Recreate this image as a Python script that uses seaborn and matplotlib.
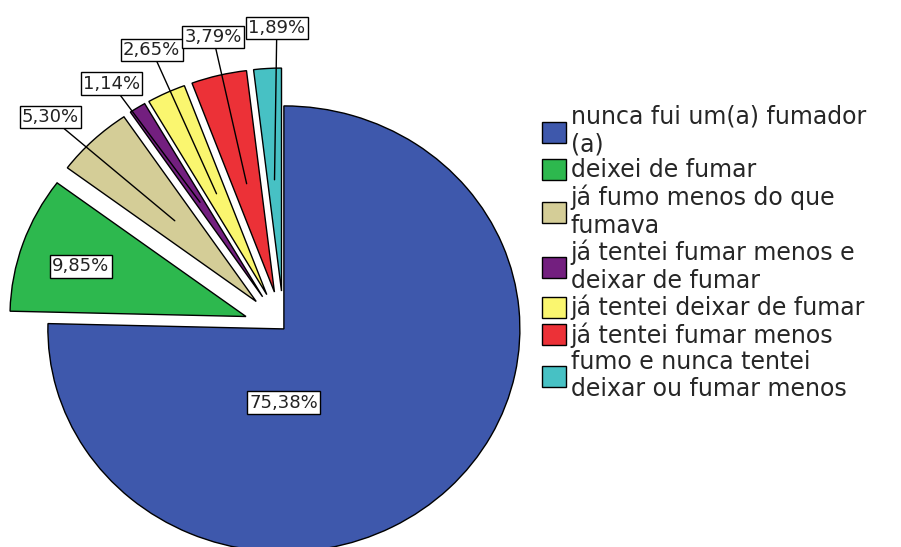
import matplotlib
matplotlib.use("Agg")
import numpy as np
import matplotlib.pyplot as plt
import seaborn as sns

categories = ["nunca fui um(a) fumador\n(a)",
              "deixei de fumar",
              "já fumo menos do que\nfumava",
              "já tentei fumar menos e\ndeixar de fumar",
              "já tentei deixar de fumar",
              "já tentei fumar menos",
              "fumo e nunca tentei\ndeixar ou fumar menos"]
percent = [75.38, 9.85, 5.30, 1.14, 2.65, 3.79, 1.89]
colors_hex = ["#3e58ac", "#2db84e", "#d4cd97", "#731f7f",
              "#faf66f", "#ec3137", "#47c1c4"]
explode = [0, 0.17, 0.17, 0.17, 0.17, 0.17, 0.17]
# label box positions (data units, pie radius = 1)
label_pos = [(0.0, -0.33), (-0.86, 0.28), (-0.99, 0.95), (-0.73, 1.10),
             (-0.56, 1.25), (-0.30, 1.31), (-0.03, 1.35)]
leader = [False, False, True, True, True, True, True]

sns.set_theme(style="white")
plt.rcParams['font.family'] = ['DejaVu Sans']

fig = plt.figure(figsize=(9.01, 5.47), dpi=100)
ax = fig.add_axes([0, 0, 1, 1])
wedges, _ = ax.pie(percent, colors=sns.color_palette(colors_hex),
                   startangle=90, counterclock=False, explode=explode,
                   wedgeprops=dict(edgecolor="black", linewidth=1))
ax.set_aspect("auto")
ax.set_xlim(-1.203, 2.615)
ax.set_ylim(-0.978, 1.475)
ax.axis("off")

box = dict(boxstyle="square,pad=0.12", fc="white", ec="black", lw=1)
for w, p, pos, lead in zip(wedges, percent, label_pos, leader):
    txt = f"{p:.2f}%".replace(".", ",")
    if lead:
        ang = np.deg2rad((w.theta1 + w.theta2) / 2)
        cx, cy = w.center
        anchor = (cx + 0.5 * np.cos(ang), cy + 0.5 * np.sin(ang))
        ax.annotate(txt, xy=anchor, xytext=pos, ha="center", va="center",
                    fontsize=13, color="#222222", bbox=box,
                    arrowprops=dict(arrowstyle="-", color="black", lw=1,
                                    shrinkA=0, shrinkB=0))
    else:
        ax.text(pos[0], pos[1], txt, ha="center", va="center",
                fontsize=13, color="#222222", bbox=box)

fig.legend(wedges, categories, loc="upper left", bbox_to_anchor=(0.589, 0.83),
           frameon=False, fontsize=17, handlelength=1.0, handleheight=1.0,
           handletextpad=0.2, labelspacing=0.08, borderpad=0)

fig.savefig("out.png", dpi=100)
